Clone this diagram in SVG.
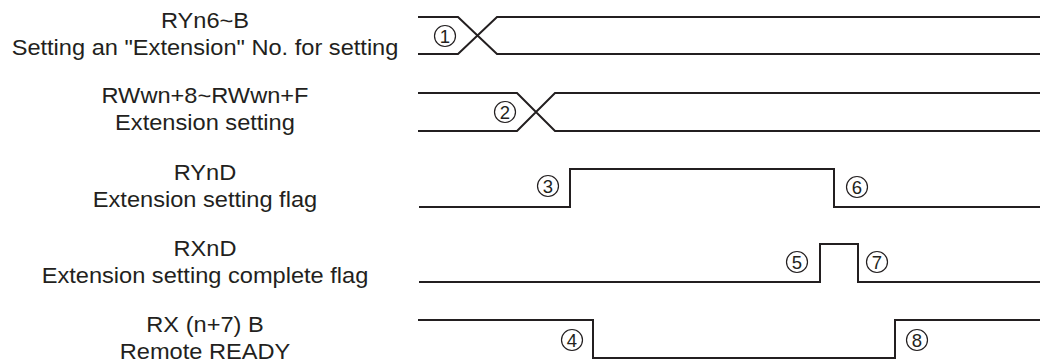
<svg xmlns="http://www.w3.org/2000/svg" width="1040" height="363" viewBox="0 0 1040 363">
  <style>
    .lbl { font-family: "Liberation Sans", Arial, sans-serif; font-size: 22.5px; fill: #231f20; text-anchor: middle; }
    .wave { fill: none; stroke: #231f20; stroke-width: 2; stroke-linejoin: miter; }
    .mk circle { fill: #fff; stroke: #231f20; stroke-width: 1.2; }
    .mk text { font-family: "Liberation Sans", Arial, sans-serif; font-size: 18.5px; fill: #231f20; text-anchor: middle; }
  </style>
  <rect width="1040" height="363" fill="#fff"/>

  <!-- signal names -->
  <g id="sig-ryn6b" transform="translate(205,0) scale(1.05,1)">
    <text class="lbl" x="0" y="28">RYn6~B</text>
    <text class="lbl" x="0" y="55">Setting an "Extension" No. for setting</text>
  </g>
  <g id="sig-rwwn" transform="translate(205,0) scale(1.05,1)">
    <text class="lbl" x="0" y="103">RWwn+8~RWwn+F</text>
    <text class="lbl" x="0" y="130">Extension setting</text>
  </g>
  <g id="sig-rynd" transform="translate(205,0) scale(1.05,1)">
    <text class="lbl" x="0" y="180">RYnD</text>
    <text class="lbl" x="0" y="207">Extension setting flag</text>
  </g>
  <g id="sig-rxnd" transform="translate(205,0) scale(1.05,1)">
    <text class="lbl" x="0" y="256">RXnD</text>
    <text class="lbl" x="0" y="283">Extension setting complete flag</text>
  </g>
  <g id="sig-rxn7b" transform="translate(205,0) scale(1.05,1)">
    <text class="lbl" x="0" y="332">RX (n+7) B</text>
    <text class="lbl" x="0" y="359">Remote READY</text>
  </g>

  <!-- waveforms -->
  <g id="waveforms">
    <path class="wave" d="M418,17 H458 L497,54 H1040 M418,54 H458 L497,17 H1040"/>
    <path class="wave" d="M418,93 H517 L555,131 H1040 M418,131 H517 L555,93 H1040"/>
    <path class="wave" d="M419,207 H570 V169 H834 V207 H1040"/>
    <path class="wave" d="M419,282 H820 V244 H858 V282 H1040"/>
    <path class="wave" d="M418,320 H593 V358 H895 V320 H1040"/>
  </g>

  <!-- step markers -->
  <g id="step-1" class="mk"><circle cx="445" cy="36" r="10.5"/><text x="445" y="42.5">1</text></g>
  <g id="step-2" class="mk"><circle cx="505" cy="112" r="10.5"/><text x="505" y="118.5">2</text></g>
  <g id="step-3" class="mk"><circle cx="548" cy="186" r="10.5"/><text x="548" y="192.5">3</text></g>
  <g id="step-4" class="mk"><circle cx="572" cy="340" r="10.5"/><text x="572" y="346.5">4</text></g>
  <g id="step-5" class="mk"><circle cx="797" cy="262" r="10.5"/><text x="797" y="268.5">5</text></g>
  <g id="step-6" class="mk"><circle cx="857" cy="187" r="10.5"/><text x="857" y="193.5">6</text></g>
  <g id="step-7" class="mk"><circle cx="877" cy="262" r="10.5"/><text x="877" y="268.5">7</text></g>
  <g id="step-8" class="mk"><circle cx="917" cy="340" r="10.5"/><text x="917" y="346.5">8</text></g>
</svg>
